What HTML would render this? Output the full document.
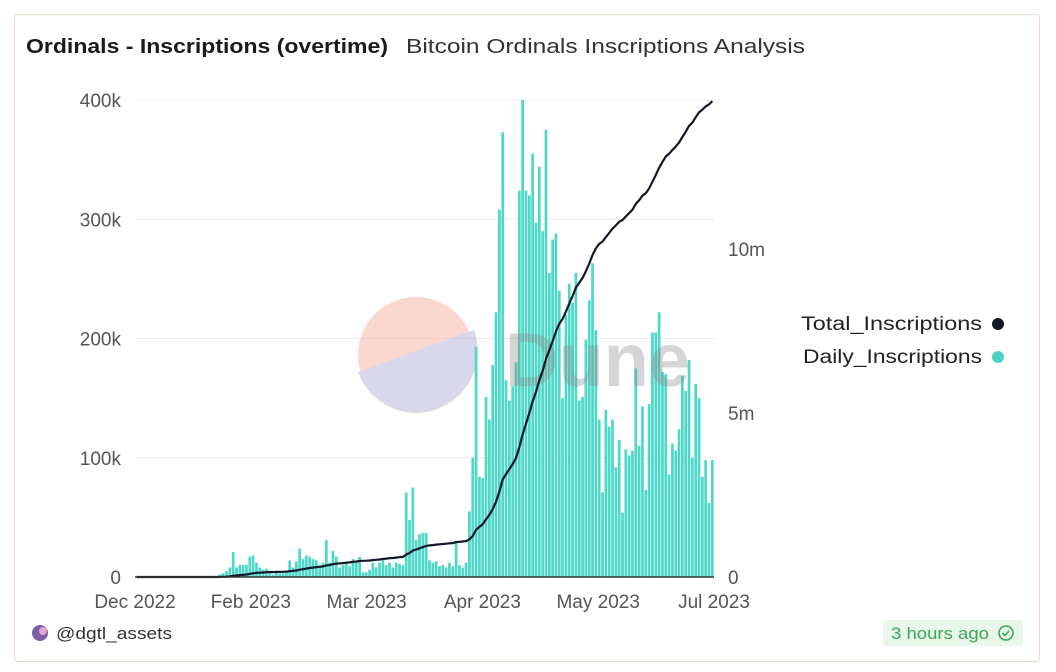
<!DOCTYPE html>
<html><head><meta charset="utf-8">
<style>
body{margin:0;background:#fff;font-family:"Liberation Sans",sans-serif;}
#card{position:absolute;left:14px;top:14px;width:1024px;height:646px;border:1px solid #f3d6cf;border-radius:4px;background:#fff;}
</style></head><body>
<div id="card"></div>
<svg id="chart" width="1056" height="672" style="position:absolute;left:0;top:0">
<text x="26" y="53" font-size="20" font-weight="bold" fill="#1a1a1a" textLength="362" lengthAdjust="spacingAndGlyphs">Ordinals - Inscriptions (overtime)</text>
<text x="406" y="53" font-size="20" fill="#333" textLength="399" lengthAdjust="spacingAndGlyphs">Bitcoin Ordinals Inscriptions Analysis</text>
<g id="grid"></g>
<g opacity="0.55">
<circle cx="416" cy="355" r="58" fill="#f6b7a8"/>
<path d="M358,372 L474,330 A58,58 0 0 1 358,372 Z" fill="#b9b8dc"/>
</g>
<g id="bars"></g>
<text x="505" y="386" font-size="76" font-weight="bold" fill="#888" opacity="0.35" textLength="185" lengthAdjust="spacingAndGlyphs">Dune</text>
<path id="line" fill="none" stroke="#111827" stroke-width="2.2"/>
<g id="axes"></g>
<g>
<text x="801" y="330" font-size="19" fill="#222" textLength="181" lengthAdjust="spacingAndGlyphs">Total_Inscriptions</text>
<circle cx="998" cy="324" r="6" fill="#111827"/>
<text x="803" y="363" font-size="19" fill="#222" textLength="179" lengthAdjust="spacingAndGlyphs">Daily_Inscriptions</text>
<circle cx="998" cy="357" r="6" fill="#4fd1c5"/>
</g>
<g>
<circle cx="40" cy="633" r="8" fill="#7b5ea7"/><circle cx="43" cy="631" r="4" fill="#e7a8d0"/>
<text x="56" y="639" font-size="17" fill="#333" textLength="116" lengthAdjust="spacingAndGlyphs">@dgtl_assets</text>
</g>
<g>
<rect x="883" y="620" width="140" height="26" rx="3" fill="#e8f7ea"/>
<text x="891" y="639" font-size="17" fill="#3aa657" textLength="98" lengthAdjust="spacingAndGlyphs">3 hours ago</text>
<circle cx="1006" cy="633" r="7" fill="none" stroke="#3aa657" stroke-width="1.6"/>
<path d="M1002.5,633 l2.5,2.5 l4,-4.5" fill="none" stroke="#3aa657" stroke-width="1.6"/>
</g>
</svg>
<script>
const daily=[0,0,0,0,0,0,0,0,0,0,0,0,0,0,0,0,0,0,0,0,0,0,0,0,0,
2,3,5,8,21,8,10,10,10,17,18,12,8,6,7,3,2,4,3,3,4,14,8,13,24,15,18,17,15,14,10,12,31,12,22,17,8,10,12,9,15,12,17,4,4,6,12,8,12,15,10,12,8,12,11,10,71,48,75,31,36,37,37,14,12,13,9,10,8,12,9,29,10,8,12,55,
100,193,84,83,151,132,178,222,308,373,165,148,160,180,324,400,324,320,355,297,344,290,375,255,283,288,240,150,220,246,230,255,148,151,199,232,263,207,132,71,140,126,132,92,115,54,107,102,106,175,110,143,73,145,205,205,222,172,170,86,112,106,124,169,156,182,100,162,150,84,98,62,98];
const leftTicks=[0,100,200,300,400];
const leftTickLabels=["0","100k","200k","300k","400k"];
const rightTicks=[0,5,10];
const rightTickLabels=["0","5m","10m"];
const xTickLabels=["Dec 2022","Feb 2023","Mar 2023","Apr 2023","May 2023","Jul 2023"];
const xTickPos=[0,0.2,0.4,0.6,0.8,1];

const X0=135,X1=714,Y0=577;
const step=(X1-X0)/daily.length;
const yL=v=>Y0-v*(477/400);
const yR=m=>Y0-m*(164/5);
const NS="http://www.w3.org/2000/svg";
function mk(tag,attrs,parent){const e=document.createElementNS(NS,tag);for(const k in attrs)e.setAttribute(k,attrs[k]);parent.appendChild(e);return e;}
const grid=document.getElementById('grid'),bars=document.getElementById('bars'),axes=document.getElementById('axes');
leftTicks.forEach((t,i)=>{
  if(t>0){const g=mk('line',{x1:X0,x2:X1,y1:yL(t),y2:yL(t),stroke:'#ececec','stroke-width':1},grid);
  
  }
  const l=mk('text',{x:121,y:yL(t)+7,'font-size':19,fill:'#555','text-anchor':'end'},axes);l.textContent=leftTickLabels[i];
  
  
});
rightTicks.forEach((t,i)=>{
  const l=mk('text',{x:728,y:yR(t)+7,'font-size':19,fill:'#555'},axes);l.textContent=rightTickLabels[i];
  
  
});
xTickLabels.forEach((s,i)=>{
  const l=mk('text',{x:X0+xTickPos[i]*(X1-X0),y:608,'font-size':19,fill:'#555','text-anchor':'middle'},axes);l.textContent=s;
  
  
});
daily.forEach((v,i)=>{
  if(v<=0)return;
  const b=mk('rect',{x:X0+i*step+0.3,y:yL(v),width:step-0.6,height:Y0-yL(v),fill:'#4fd8c8'},bars);
  
  
});
let cum=0,d='';
daily.forEach((v,i)=>{cum+=v/1000;d+=(i?'L':'M')+(X0+(i+0.5)*step).toFixed(1)+','+yR(cum).toFixed(1);});
document.getElementById('line').setAttribute('d',d);
const ax=mk('line',{x1:X0,x2:X1,y1:Y0,y2:Y0,stroke:'#333','stroke-width':1.5},axes);


</script>
</body></html>
